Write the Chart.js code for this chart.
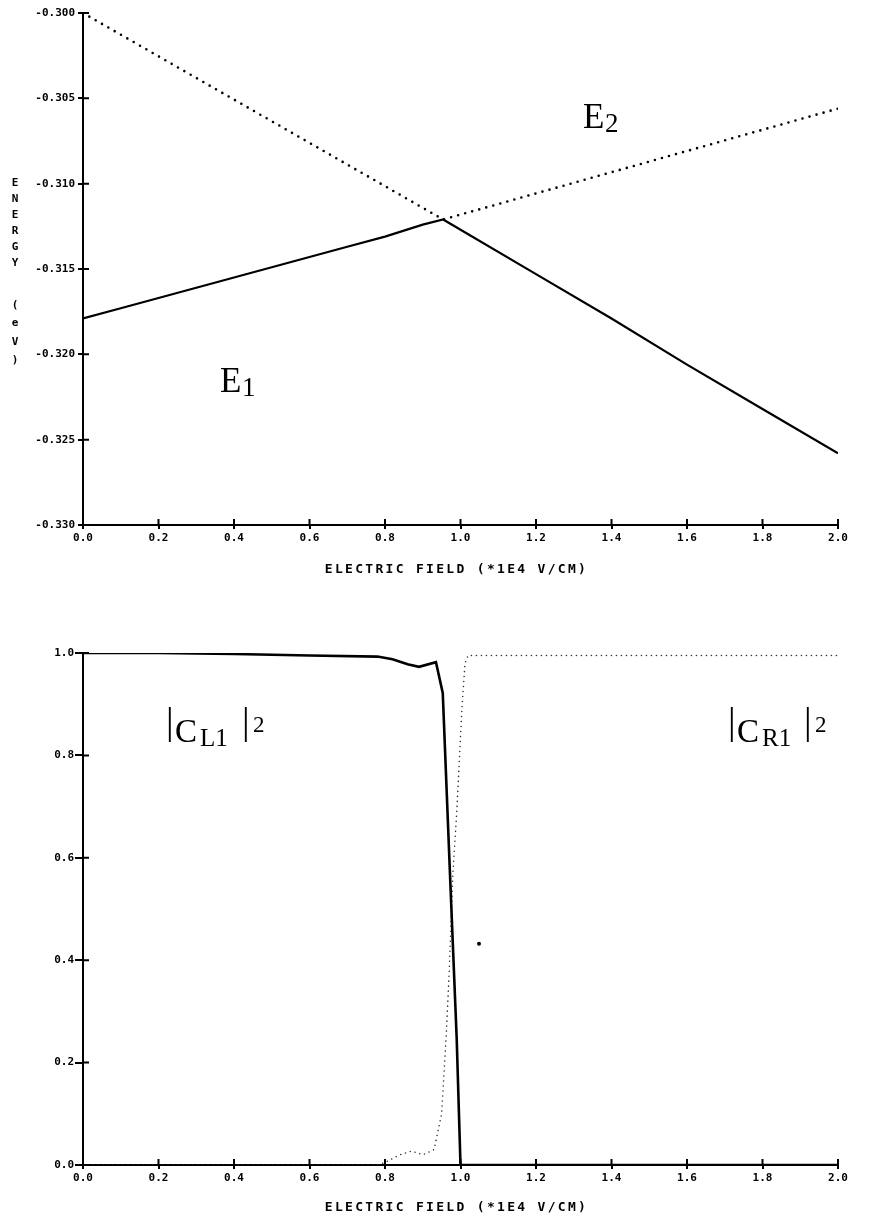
<!DOCTYPE html>
<html>
<head>
<meta charset="utf-8">
<script src="https://cdn.jsdelivr.net/npm/chart.js@4.4.1/dist/chart.umd.min.js"></script>
<style>
  html, body { margin: 0; padding: 0; background: #fff; }
  #wrap { position: relative; width: 875px; height: 1226px; }
  .panel { position: absolute; left: 0; width: 875px; }
  #topPanel { top: 0; height: 600px; }
  #bottomPanel { top: 600px; height: 626px; }
</style>
</head>
<body>
<div id="wrap">
  <div class="panel" id="topPanel"><canvas id="energyChart" width="875" height="600"></canvas></div>
  <div class="panel" id="bottomPanel"><canvas id="weightChart" width="875" height="626"></canvas></div>
</div>
<script>
// --- energy levels (eV) vs field (x1E4 V/cm)
const fieldE1  = [0, 0.1, 0.2, 0.3, 0.4, 0.5, 0.6, 0.7, 0.8, 0.9, 0.954, 1.2, 1.4, 1.6, 1.8, 2.0];
const energyE1 = [-0.3179, -0.3173, -0.3167, -0.3161, -0.3155, -0.3149, -0.3143, -0.3137, -0.3131, -0.3124, -0.3121,
                  -0.3153, -0.3179, -0.3206, -0.3232, -0.3258];
const fieldE2  = [0, 0.954, 2.0];
const energyE2 = [-0.300, -0.3121, -0.3056];

// --- weights of the left / right states
const fieldCL = [0, 0.2, 0.4, 0.6, 0.78, 0.82, 0.86, 0.89, 0.935, 0.953, 0.972, 0.99, 1.0, 2.0];
const weightCL = [1.0, 1.0, 0.998, 0.995, 0.993, 0.988, 0.978, 0.973, 0.982, 0.922, 0.571, 0.245, 0.0, 0.0];
const fieldCR = [0, 0.78, 0.8, 0.84, 0.87, 0.9, 0.93, 0.95, 0.962, 0.97, 0.98, 0.99, 1.004, 1.012, 1.02, 2.0];
const weightCR = [0, 0, 0.005, 0.02, 0.027, 0.02, 0.03, 0.1, 0.25, 0.375, 0.571, 0.688, 0.895, 0.98, 0.995, 0.995];
const strayField = [1.049];
const strayWeight = [0.432];

const fieldTicks = [0, 0.2, 0.4, 0.6, 0.8, 1.0, 1.2, 1.4, 1.6, 1.8, 2.0];
const energyTicks = [-0.330, -0.325, -0.320, -0.315, -0.310, -0.305, -0.300];
const weightTicks = [0, 0.2, 0.4, 0.6, 0.8, 1.0];

const xTitle = 'ELECTRIC FIELD (*1E4 V/CM)';
const tickFont = { family: 'DejaVu Sans Mono', size: 11, weight: 'bold' };

const pts = (xs, ys) => xs.map((x, i) => ({ x, y: ys[i] }));

// tick marks poke into the plot as well as out of it
const crossTicks = {
  id: 'crossTicks',
  afterDraw(chart) {
    const { ctx, chartArea, scales: { x, y } } = chart;
    ctx.save();
    ctx.strokeStyle = '#000';
    ctx.lineWidth = 2;
    ctx.beginPath();
    x.ticks.forEach(t => {
      const px = x.getPixelForValue(t.value);
      ctx.moveTo(px, chartArea.bottom);
      ctx.lineTo(px, chartArea.bottom - 6);
    });
    y.ticks.forEach(t => {
      const py = y.getPixelForValue(t.value);
      ctx.moveTo(chartArea.left, py);
      ctx.lineTo(chartArea.left + 6, py);
    });
    ctx.stroke();
    ctx.restore();
  }
};

// plotter-style axis titles and the serif labels on the curves
const labels = {
  id: 'labels',
  afterDraw(chart, args, opts) {
    const { ctx, chartArea } = chart;
    ctx.save();
    ctx.fillStyle = '#000';
    ctx.font = 'bold 13px "DejaVu Sans Mono"';
    ctx.letterSpacing = '2.3px';
    ctx.textAlign = 'center';
    ctx.textBaseline = 'middle';
    ctx.fillText(xTitle, (chartArea.left + chartArea.right) / 2 - 4, chartArea.bottom + opts.titleGap);
    ctx.letterSpacing = '0px';

    if (opts.yTitle) {
      ctx.font = 'bold 11px "DejaVu Sans Mono"';
      opts.yTitle.forEach(([ch, py]) => ctx.fillText(ch, 15, py));
    }

    ctx.textAlign = 'left';
    ctx.textBaseline = 'alphabetic';
    (opts.notes || []).forEach(note => {
      note.runs.forEach(r => {
        ctx.font = r.size + 'px "Liberation Serif"';
        ctx.fillText(r.t, note.x + r.dx, note.y + (r.dy || 0));
      });
    });
    ctx.restore();
  }
};

function axisX(height) {
  return {
    type: 'linear', min: 0, max: 2,
    afterBuildTicks: s => { s.ticks = fieldTicks.map(v => ({ value: v })); },
    afterFit: s => { s.height = height; },
    ticks: { color: '#000', font: tickFont, padding: 3, maxRotation: 0, callback: v => v.toFixed(1) },
    grid: { drawOnChartArea: false, color: '#000', lineWidth: 2, tickLength: 4 },
    border: { color: '#000', width: 2 }
  };
}

function axisY(min, max, ticks, digits, tickLen, pad) {
  return {
    type: 'linear', min, max,
    afterBuildTicks: s => { s.ticks = ticks.map(v => ({ value: v })); },
    afterFit: s => { s.width = 83; },
    ticks: { color: '#000', font: tickFont, padding: pad, callback: v => v.toFixed(digits) },
    grid: { drawOnChartArea: false, color: '#000', lineWidth: 2, tickLength: tickLen },
    border: { color: '#000', width: 2 }
  };
}

const yLetters = [['E', 183], ['N', 199], ['E', 215], ['R', 231], ['G', 247], ['Y', 263],
                  ['(', 305], ['e', 323], ['V', 342], [')', 360]];

// |C|^2 label pieces: bar, C, subscript, bar, superscript
const weightLabel = sub => [
  { t: '|', size: 38, dx: 0, dy: -8 },
  { t: 'C', size: 33, dx: 9 },
  { t: sub, size: 25, dx: 34, dy: 4 },
  { t: '|', size: 38, dx: 76, dy: -8 },
  { t: '2', size: 23, dx: 87, dy: -10 }
];

new Chart(document.getElementById('energyChart'), {
  type: 'line',
  data: {
    datasets: [
      { label: 'E1', data: pts(fieldE1, energyE1), borderColor: '#000', borderWidth: 2.2, pointRadius: 0, tension: 0 },
      { label: 'E2', data: pts(fieldE2, energyE2), borderColor: '#000', borderWidth: 2.6, borderDash: [0, 7.3],
        borderCapStyle: 'round', pointRadius: 0, tension: 0 }
    ]
  },
  options: {
    responsive: false,
    animation: false,
    layout: { padding: { left: 0, top: 13, right: 37, bottom: 0 } },
    plugins: {
      legend: { display: false },
      tooltip: { enabled: false },
      labels: {
        titleGap: 45,
        yTitle: yLetters,
        notes: [
          { x: 583, y: 128, runs: [{ t: 'E', size: 35, dx: 0 }, { t: '2', size: 27, dx: 22, dy: 4 }] },
          { x: 220, y: 392, runs: [{ t: 'E', size: 35, dx: 0 }, { t: '1', size: 27, dx: 22, dy: 4 }] }
        ]
      }
    },
    scales: { x: axisX(75), y: axisY(-0.330, -0.300, energyTicks, 3, 5, 3) }
  },
  plugins: [crossTicks, labels]
});

new Chart(document.getElementById('weightChart'), {
  type: 'line',
  data: {
    datasets: [
      { label: '|CL1|2', data: pts(fieldCL, weightCL), borderColor: '#000', borderWidth: 2.6, pointRadius: 0, tension: 0 },
      { label: '|CR1|2', data: pts(fieldCR, weightCR), borderColor: '#333', borderWidth: 1.6, borderDash: [0, 5],
        borderCapStyle: 'round', pointRadius: 0, tension: 0 },
      { type: 'scatter', label: 'stray', data: pts(strayField, strayWeight), pointRadius: 2,
        pointBackgroundColor: '#000', pointBorderWidth: 0, showLine: false }
    ]
  },
  options: {
    responsive: false,
    animation: false,
    layout: { padding: { left: 0, top: 53, right: 37, bottom: 0 } },
    plugins: {
      legend: { display: false },
      tooltip: { enabled: false },
      labels: {
        titleGap: 43,
        notes: [
          { x: 166, y: 142, runs: weightLabel('L1') },
          { x: 728, y: 142, runs: weightLabel('R1') }
        ]
      }
    },
    scales: { x: axisX(61), y: axisY(0, 1, weightTicks, 1, 8, 1) }
  },
  plugins: [crossTicks, labels]
});
</script>
</body>
</html>
